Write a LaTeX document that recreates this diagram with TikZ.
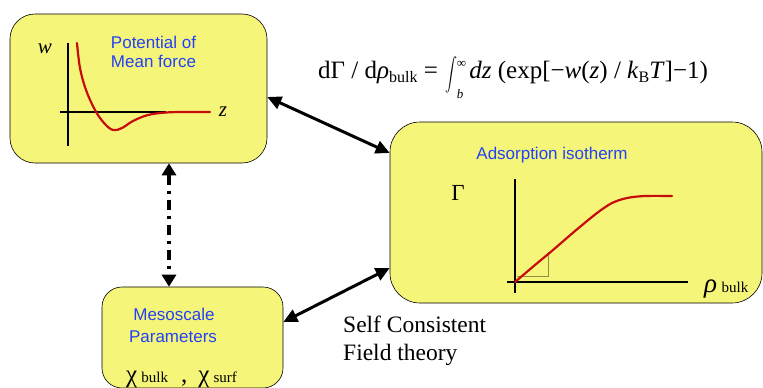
\documentclass[tikz,border=0pt]{standalone}
\usepackage{fix-cm}
\usepackage{graphicx}
\usepackage{fontspec}
\setmainfont{Liberation Serif}
\setsansfont{Liberation Sans}
\usetikzlibrary{arrows.meta}
\definecolor{boxyellow}{RGB}{245,245,122}
\definecolor{lblue}{RGB}{35,65,245}
\definecolor{cred}{RGB}{200,12,12}
\definecolor{triol}{RGB}{150,140,60}
\newcommand{\fsz}[1]{\fontsize{#1}{#1}\selectfont}
\newcommand{\lowsub}[3]{\raisebox{-#1}{\fsz{#2}#3}}
\newcommand{\myint}{\raisebox{-7pt}{\scalebox{1.2}[1.65]{$\displaystyle\int$}}\kern-1pt\rlap{\raisebox{11pt}{\fsz{13}∞}}\raisebox{-20pt}{\fsz{13}\textit{b}}}
\begin{document}
\begin{tikzpicture}[x=1pt,y=-1pt,
  panel/.style={draw=black, line width=0.6pt, fill=boxyellow, rounded corners=#1, inner sep=0pt},
  bluelbl/.style={text=lblue, font=\sffamily\fsz{17}, anchor=base, inner sep=0pt},
  serif/.style={font=\fsz{#1}, anchor=base, inner sep=0pt},
  axis/.style={line width=2.6pt, black},
  curve/.style={line width=2.2pt, cred, line cap=round},
  bigarrow/.style={{Triangle[length=14pt,width=13pt]}-{Triangle[length=14pt,width=13pt]}, line width=3pt},
  dotarrow/.style={{Triangle[length=12pt,width=14pt]}-{Triangle[length=12pt,width=14pt]}, line width=3.6pt, dash pattern=on 10pt off 6pt on 3pt off 6pt}
]
\useasboundingbox (0,0) rectangle (763,388);
\clip (0,0) rectangle (763,388);
\fill[white] (0,0) rectangle (763,388);

% panels
\node[panel=25pt, minimum width=257pt, minimum height=149pt] (pmf) at (138.5,88.5) {};
\node[panel=30pt, minimum width=372pt, minimum height=181pt] (iso) at (576,212.5) {};
\node[panel=20pt, minimum width=181pt, minimum height=101pt] (meso) at (192.5,337.5) {};

% potential of mean force plot
\draw[axis] (68,43) -- (68,146);
\draw[axis] (60,112) -- (166,112);
\draw[curve] plot[smooth, tension=0.6] coordinates {(77,43) (80,68) (86,90) (95,110) (104,123) (113,130) (122,128) (133,121) (148,115) (166,112.5) (185,112) (210,112)};
\node[serif=21] (wlab) at (45,53) {\textit{w}};
\node[serif=21] (zlab) at (223,116) {\textit{z}};
\node[bluelbl] (pmf1) at (153.5,48) {Potential of};
\node[bluelbl] (pmf2) at (153.5,67) {Mean force};

% adsorption isotherm plot
\draw[axis] (515,179) -- (515,293);
\draw[axis] (507,282) -- (688,282);
\draw[triol, line width=0.7pt] (517,276) -- (548,276) -- (548,252);
\draw[curve] plot[smooth, tension=0.5] coordinates {(515,282) (535,265) (553,250) (575,231) (597,213) (612,203) (627,198) (645,196) (672,196)};
\node[bluelbl] (isot) at (552,159) {Adsorption isotherm};
\node[serif=23] (gam) at (458,200) {Γ};
\node[serif=27, anchor=base west] (rho) at (704,292) {\textit{ρ}\,\lowsub{0pt}{15}{bulk}};

% mesoscale
\node[bluelbl] (ms1) at (174,320) {Mesoscale};
\node[bluelbl] (ms2) at (173,342) {Parameters};
\node[serif=25, anchor=base west] (chi) at (126,382) {χ\,\lowsub{0pt}{15}{bulk}\hspace{13pt},\hspace{11pt}χ\,\lowsub{0pt}{15}{surf}};

% formula
\node[serif=25, anchor=base west] (formula) at (318,78) {dΓ / d\textit{ρ}\lowsub{4pt}{16}{bulk} =\kern8pt\myint\kern6pt\textit{dz} (exp[−\textit{w}(\textit{z}) / \textit{k}\lowsub{4pt}{16}{B}\textit{T}]−1)};

% method label
\node[serif=23.5, anchor=base west] (scft1) at (343,332) {Self Consistent};
\node[serif=23.5, anchor=base west] (scft2) at (343,360) {Field theory};

% connectors
\draw[bigarrow] ([yshift=-8.5pt]pmf.east) -- ([yshift=59.5pt]iso.west);
\draw[bigarrow] ([yshift=15.5pt]meso.east) -- ([yshift=-55.5pt]iso.west);
\draw[dotarrow] ([xshift=30.5pt]pmf.south) -- ([xshift=-23.5pt]meso.north);
\end{tikzpicture}
\end{document}
